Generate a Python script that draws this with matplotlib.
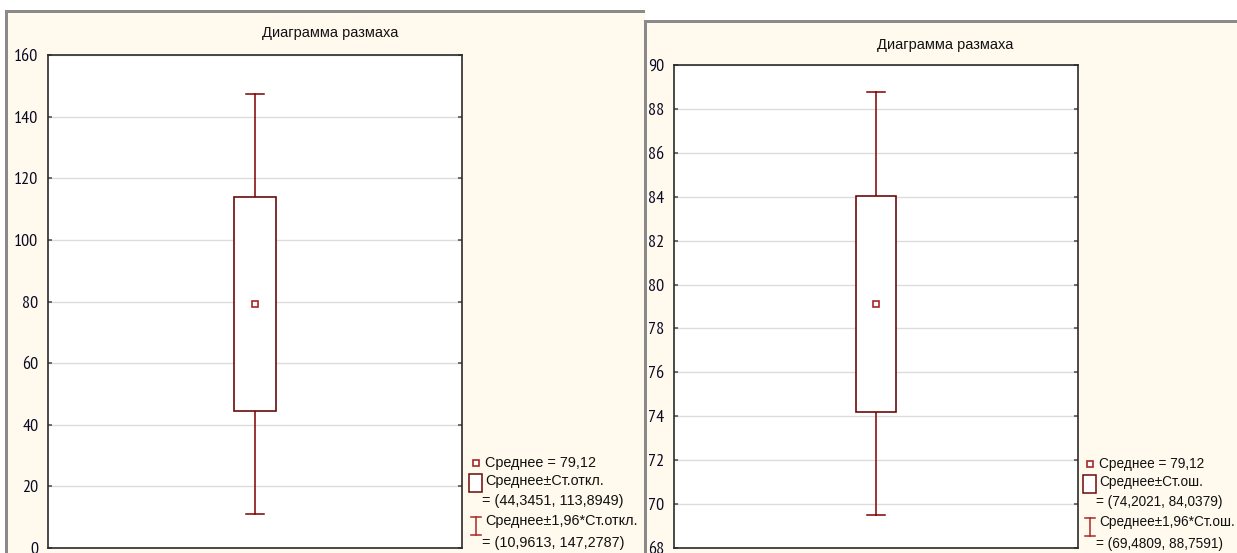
import matplotlib
matplotlib.use("Agg")
from matplotlib import pyplot as plt
from matplotlib import font_manager
from matplotlib.patches import Rectangle
from matplotlib.lines import Line2D

# values (left: SD, right: SE)
titles = ["Диаграмма размаха", "Диаграмма размаха"]
means = [79.12, 79.12]
box_lo = [44.3451, 74.2021]
box_hi = [113.8949, 84.0379]
whisk_lo = [10.9613, 69.4809]
whisk_hi = [147.2787, 88.7591]
box_names = ["Ст.откл.", "Ст.ош."]
y_ranges = [(0, 160), (68, 90)]
y_steps = [20, 2]

W, H = 1237, 553
RED = "#800000"
BOXRED = "#6a0a0a"
MEANRED = "#a82828"
CREAM = "#FFF9EE"
plt.rcParams['font.family'] = ["Liberation Sans", "DejaVu Sans"]

# tick numbers in the screenshot use a narrow face
avail = {f.name for f in font_manager.fontManager.ttflist}
narrow = next((n for n in ["Liberation Sans Narrow", "Arial Narrow", "PT Sans Narrow",
                           "Archivo Narrow", "Roboto Condensed"] if n in avail), "Liberation Sans")


def fx(px):
    return px / W


def fy(py):
    return 1 - py / H


def fmt(v):
    return ("%.4f" % v).replace(".", ",")


fig = plt.figure(figsize=(W / 100, H / 100), dpi=100)
fig.patch.set_facecolor("white")

# panel backgrounds with the grey window frame on top/left
panels = [(5, 10, 645), (644, 20, W + 5)]
for x0, y0, x1 in panels:
    fig.patches.append(Rectangle((fx(x0), 0), fx(x1 - x0), fy(y0), transform=fig.transFigure,
                                 facecolor=CREAM, edgecolor="none", zorder=-3))
    fig.patches.append(Rectangle((fx(x0), fy(y0 + 3)), fx(x1 - x0), 3 / H, transform=fig.transFigure,
                                 facecolor="#8a8a8a", edgecolor="none", zorder=-2))
    fig.patches.append(Rectangle((fx(x0), 0), 3 / W, fy(y0 + 3), transform=fig.transFigure,
                                 facecolor="#8a8a8a", edgecolor="none", zorder=-2))

# axes boxes in pixels: left, top, right, bottom
ax_px = [(48, 55, 462, 548), (674, 65, 1078, 548)]
title_px = [(330, 33), (945, 45)]
legend_px = [(476, 463), (1090, 464)]
legend_fs = [10.4, 9.8]

for i in range(2):
    l, t, r, b = ax_px[i]
    ax = fig.add_axes([fx(l), fy(b), fx(r - l), (b - t) / H])
    ax.set_facecolor("white")
    lo, hi = y_ranges[i]
    ax.set_ylim(lo, hi)
    ax.set_xlim(0, 1)
    ax.set_yticks(range(lo, hi + 1, y_steps[i]))
    ax.set_xticks([])
    ax.yaxis.grid(True, color="#dcdcdc", linewidth=1.0)
    ax.set_axisbelow(True)
    for s in ax.spines.values():
        s.set_color("#2b2b2b")
        s.set_linewidth(1.2)
    ax.tick_params(axis="y", direction="in", length=3, width=1.2, color="#555555",
                   labelsize=13, pad=7, labelcolor="#0a0a22", right=True, labelright=False)
    for lab in ax.get_yticklabels():
        lab.set_family([narrow, "Liberation Sans"])

    xc = 0.5
    bw = 0.1
    cw = 0.045
    # whiskers
    ax.plot([xc, xc], [whisk_lo[i], box_lo[i]], color=RED, lw=1.1)
    ax.plot([xc, xc], [box_hi[i], whisk_hi[i]], color=RED, lw=1.1)
    ax.plot([xc - cw / 2, xc + cw / 2], [whisk_lo[i]] * 2, color=RED, lw=1.1)
    ax.plot([xc - cw / 2, xc + cw / 2], [whisk_hi[i]] * 2, color=RED, lw=1.1)
    # box
    ax.add_patch(Rectangle((xc - bw / 2, box_lo[i]), bw, box_hi[i] - box_lo[i],
                           facecolor="white", edgecolor=BOXRED, lw=1.2, zorder=3))
    # mean
    ax.plot([xc], [means[i]], marker="s", markersize=5, markerfacecolor="white",
            markeredgecolor=MEANRED, markeredgewidth=1.2, linestyle="none", zorder=4)

    tx, ty = title_px[i]
    fig.text(fx(tx), fy(ty), titles[i], ha="center", va="center", fontsize=10.5, color="#111111")

    # legend drawn by hand, Statistica style
    lx, ly = legend_px[i]
    fs = legend_fs[i]
    tx0 = lx + 9
    fig.add_artist(Line2D([fx(lx)], [fy(ly)], marker="s", markersize=5, markerfacecolor="white",
                          markeredgecolor=MEANRED, markeredgewidth=1.2, transform=fig.transFigure))
    fig.text(fx(tx0), fy(ly), "Среднее = " + ("%.2f" % means[i]).replace(".", ","),
             ha="left", va="center", fontsize=fs, color="#111111")
    fig.patches.append(Rectangle((fx(lx - 7), fy(ly + 29)), fx(13), 18 / H, transform=fig.transFigure,
                                 facecolor="white", edgecolor=BOXRED, lw=1.1))
    fig.text(fx(tx0), fy(ly + 18), "Среднее±" + box_names[i], ha="left", va="center",
             fontsize=fs, color="#111111")
    fig.text(fx(lx + 6), fy(ly + 38), "= (%s, %s)" % (fmt(box_lo[i]), fmt(box_hi[i])),
             ha="left", va="center", fontsize=fs, color="#111111")
    wy0, wy1 = ly + 54, ly + 72
    fig.add_artist(Line2D([fx(lx), fx(lx)], [fy(wy0), fy(wy1)], color=MEANRED, lw=1.1, transform=fig.transFigure))
    fig.add_artist(Line2D([fx(lx - 5), fx(lx + 5)], [fy(wy0), fy(wy0)], color=MEANRED, lw=1.1, transform=fig.transFigure))
    fig.add_artist(Line2D([fx(lx - 5), fx(lx + 5)], [fy(wy1), fy(wy1)], color=MEANRED, lw=1.1, transform=fig.transFigure))
    fig.text(fx(tx0), fy(ly + 58), "Среднее±1,96*" + box_names[i], ha="left", va="center",
             fontsize=fs, color="#111111")
    fig.text(fx(lx + 6), fy(ly + 80), "= (%s, %s)" % (fmt(whisk_lo[i]), fmt(whisk_hi[i])),
             ha="left", va="center", fontsize=fs, color="#111111")

fig.savefig("out.png", dpi=100)
